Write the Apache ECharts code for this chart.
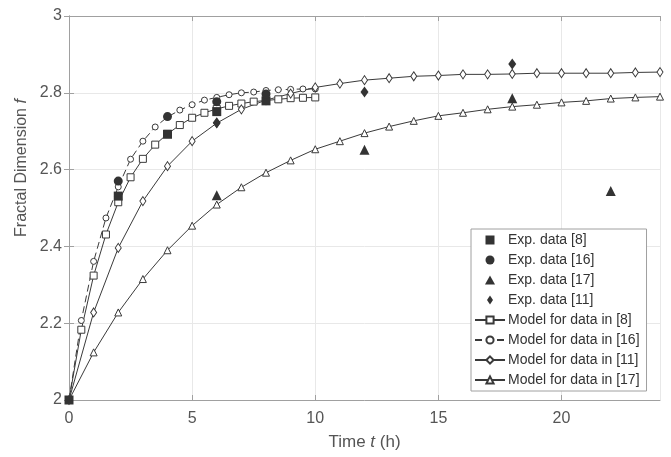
<!DOCTYPE html>
<html>
<head>
<meta charset="utf-8">
<title>Fractal dimension vs time</title>
<script src="https://cdn.jsdelivr.net/npm/echarts@6/dist/echarts.min.js"></script>
<style>
  html, body { margin: 0; padding: 0; background: #fff; }
  #chart { width: 671px; height: 457px; }
</style>
</head>
<body>
<div id="chart"></div>
<script>
// time grids of the model curves
var tHalf = [0, 0.5, 1, 1.5, 2, 2.5, 3, 3.5, 4, 4.5, 5, 5.5, 6, 6.5, 7, 7.5, 8, 8.5, 9, 9.5, 10];
var tHour = [0, 1, 2, 3, 4, 5, 6, 7, 8, 9, 10, 11, 12, 13, 14, 15, 16, 17, 18, 19, 20, 21, 22, 23, 24];

// model curves
var model8 = [2, 2.183, 2.324, 2.431, 2.515, 2.58, 2.628, 2.665, 2.693, 2.716, 2.735,
    2.748, 2.758, 2.766, 2.772, 2.777, 2.78, 2.783, 2.786, 2.787, 2.788];
var model16 = [2, 2.207, 2.361, 2.474, 2.555, 2.627, 2.674, 2.711, 2.737, 2.755, 2.769,
    2.781, 2.788, 2.795, 2.8, 2.802, 2.806, 2.808, 2.809, 2.81, 2.81];
var model11 = [2, 2.228, 2.396, 2.518, 2.609, 2.674, 2.721, 2.757, 2.781, 2.798, 2.814,
    2.824, 2.833, 2.838, 2.843, 2.845, 2.848, 2.848, 2.849, 2.851, 2.851, 2.851, 2.851, 2.853, 2.854];
var model17 = [2, 2.124, 2.228, 2.315, 2.39, 2.454, 2.509, 2.554, 2.592, 2.624, 2.653,
    2.674, 2.695, 2.712, 2.727, 2.74, 2.748, 2.757, 2.764, 2.769, 2.775, 2.779, 2.785, 2.788, 2.79];

// experimental points
var exp8T = [0, 2, 4, 6, 8];
var exp8F = [2, 2.531, 2.692, 2.751, 2.779];
var exp16T = [2, 4, 6, 8];
var exp16F = [2.57, 2.738, 2.777, 2.797];
var exp17T = [6, 12, 18, 22];
var exp17F = [2.533, 2.652, 2.786, 2.544];
var exp11T = [6, 12, 18];
var exp11F = [2.722, 2.802, 2.875];

var xTicks = { min: 0, max: 24, interval: 5 };
var yTicks = { min: 2, max: 3, interval: 0.2 };

function pairs(xs, ys) {
    return xs.map(function (x, i) { return [x, ys[i]]; });
}

var ink = '#3a3a3a';
var font = "'Liberation Sans', Arial, sans-serif";

// legend icons as paths so they keep their aspect ratio
var icons = {
    rect: 'path://M0,0 L10,0 L10,10 L0,10 Z',
    circle: 'path://M0,5 A5,5 0 1,1 10,5 A5,5 0 1,1 0,5 Z',
    triangle: 'path://M5,0 L10,9 L0,9 Z',
    diamond: 'path://M4,0 L8,6 L4,12 L0,6 Z',
};

function modelSeries(name, xs, ys, symbol, size, dashed) {
    return {
        name: name,
        type: 'line',
        data: pairs(xs, ys),
        symbol: symbol,
        symbolSize: size,
        showAllSymbol: true,
        z: 2,
        lineStyle: { color: ink, width: 1, type: dashed ? [7, 4] : 'solid' },
        itemStyle: { color: '#fff', borderColor: ink, borderWidth: 1 },
        emphasis: { disabled: true },
        animation: false,
    };
}

function expSeries(name, xs, ys, symbol, size) {
    return {
        name: name,
        type: 'scatter',
        data: pairs(xs, ys),
        symbol: symbol,
        symbolSize: size,
        z: 5,
        itemStyle: { color: '#333', opacity: 1 },
        emphasis: { disabled: true },
        animation: false,
    };
}

var axisCommon = {
    type: 'value',
    axisLine: { show: true, lineStyle: { color: '#a0a0a0', width: 1 } },
    axisTick: { show: true, inside: true, length: 5, lineStyle: { color: '#a0a0a0' } },
};

var option = {
    backgroundColor: '#fff',
    animation: false,
    textStyle: { fontFamily: font },
    grid: { left: 69, right: 11, top: 16, bottom: 57, containLabel: false },
    legend: {
        orient: 'vertical',
        left: 471,
        top: 229,
        itemWidth: 30,
        itemHeight: 9,
        itemGap: 6,
        padding: [4, 7, 4, 3],
        backgroundColor: '#fff',
        borderColor: '#a0a0a0',
        borderWidth: 1,
        borderRadius: 0,
        textStyle: { fontSize: 14, color: '#333', fontFamily: font, padding: [0, 0, 0, -2] },
        data: [
            { name: 'Exp. data [8]', icon: icons.rect },
            { name: 'Exp. data [16]', icon: icons.circle },
            { name: 'Exp. data [17]', icon: icons.triangle },
            { name: 'Exp. data [11]', icon: icons.diamond },
            'Model for data in [8]', 'Model for data in [16]', 'Model for data in [11]', 'Model for data in [17]'],
    },
    graphic: [{
        type: 'text',
        x: 22,
        y: 168,
        rotation: Math.PI / 2,
        silent: true,
        style: {
            text: 'Fractal Dimension {i|f}',
            fontSize: 16,
            fontFamily: font,
            fill: '#555',
            align: 'center',
            verticalAlign: 'middle',
            rich: { i: { fontSize: 16, fontStyle: 'italic', fill: '#555', fontFamily: font } },
        },
    }],
    xAxis: [
        Object.assign({}, axisCommon, {
            min: xTicks.min, max: xTicks.max, interval: xTicks.interval,
            name: 'Time {i|t} (h)',
            nameLocation: 'middle',
            nameGap: 34,
            nameTextStyle: {
                fontSize: 17, color: '#555', fontFamily: font,
                rich: { i: { fontSize: 17, fontStyle: 'italic', color: '#555', fontFamily: font } },
            },
            axisLabel: { fontSize: 16, color: '#555', margin: 11, showMaxLabel: false },
            splitLine: { show: true, lineStyle: { color: '#e8e8e8', width: 1 } },
        }),
        Object.assign({}, axisCommon, {
            position: 'top',
            min: xTicks.min, max: xTicks.max, interval: xTicks.interval,
            axisLabel: { show: false },
            splitLine: { show: false },
        }),
    ],
    yAxis: [
        Object.assign({}, axisCommon, {
            min: yTicks.min, max: yTicks.max, interval: yTicks.interval,
            axisLabel: { fontSize: 16, color: '#555', margin: 7,
                formatter: function (v) { return String(Math.round(v * 10) / 10); } },
            splitLine: { show: true, lineStyle: { color: '#e8e8e8', width: 1 } },
        }),
        Object.assign({}, axisCommon, {
            position: 'right',
            min: yTicks.min, max: yTicks.max, interval: yTicks.interval,
            axisLabel: { show: false },
            splitLine: { show: false },
        }),
    ],
    series: [
        modelSeries('Model for data in [8]', tHalf, model8, 'rect', 7, false),
        modelSeries('Model for data in [16]', tHalf, model16, 'circle', 6, true),
        modelSeries('Model for data in [11]', tHour, model11, 'diamond', [6, 9], false),
        modelSeries('Model for data in [17]', tHour, model17, 'triangle', 7, false),
        expSeries('Exp. data [8]', exp8T, exp8F, 'rect', 9),
        expSeries('Exp. data [16]', exp16T, exp16F, 'circle', 9),
        expSeries('Exp. data [17]', exp17T, exp17F, 'triangle', 10),
        expSeries('Exp. data [11]', exp11T, exp11F, 'diamond', [8, 11]),
    ],
};

var myChart = echarts.init(document.getElementById('chart'), null, { renderer: 'canvas' });
myChart.setOption(option);
window.addEventListener('resize', myChart.resize);
</script>
</body>
</html>
